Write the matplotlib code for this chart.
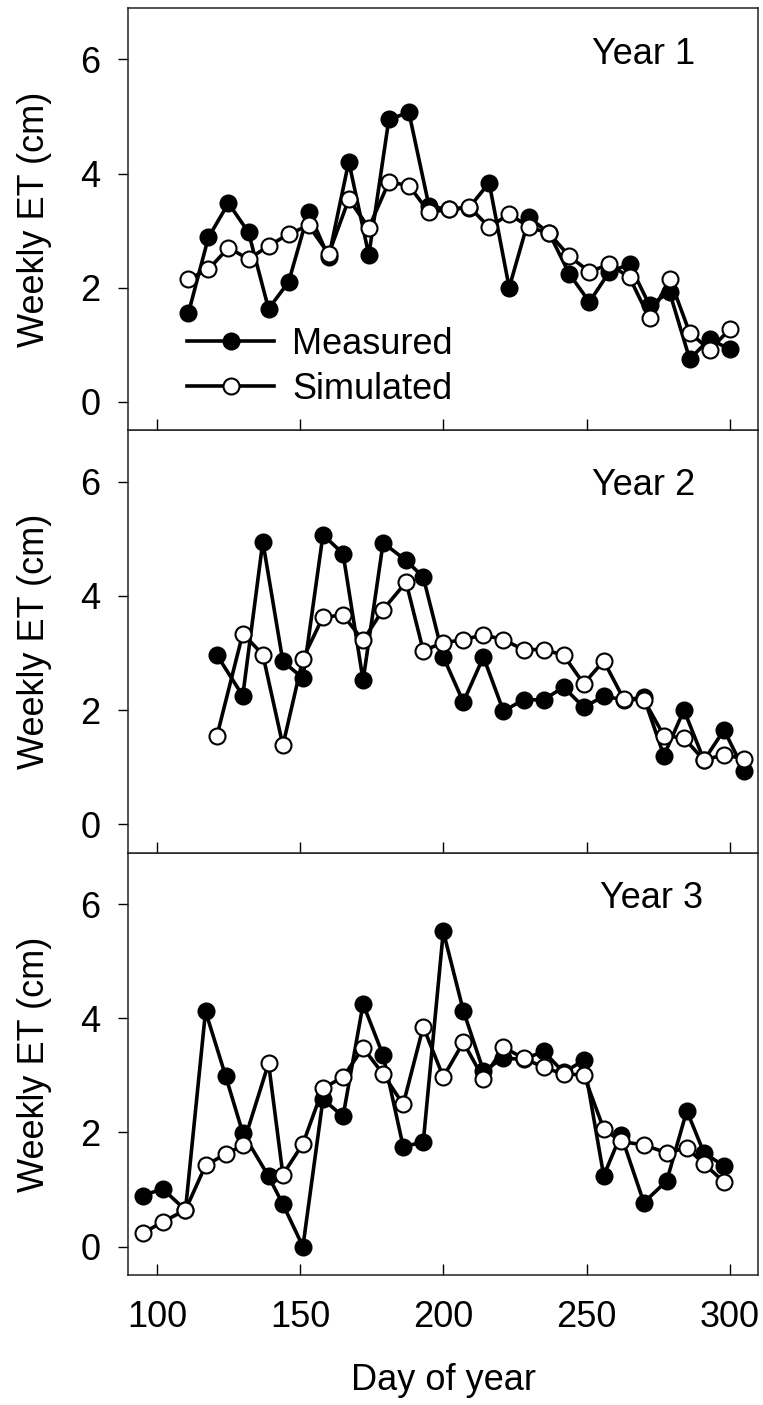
"""
Weekly ET, measured vs simulated, for three years.
Three stacked panels sharing the day-of-year axis.
"""

import matplotlib
matplotlib.use('Agg')
import matplotlib.pyplot as plt

plt.rcParams['font.family'] = ['Liberation Sans', 'DejaVu Sans']

# Year 1
year1_day = [111, 118, 125, 132, 139, 146, 153, 160, 167, 174, 181, 188, 195, 202,
             209, 216, 223, 230, 237, 244, 251, 258, 265, 272, 279, 286, 293, 300]
year1_measured = [1.55, 2.88, 3.48, 2.97, 1.63, 2.10, 3.33, 2.53, 4.21, 2.57, 4.95, 5.07, 3.43, 3.37,
                  3.40, 3.84, 2.00, 3.23, 2.95, 2.24, 1.75, 2.28, 2.41, 1.69, 1.92, 0.75, 1.10, 0.92]
year1_simulated = [2.15, 2.32, 2.70, 2.50, 2.73, 2.94, 3.09, 2.59, 3.55, 3.05, 3.85, 3.79, 3.32, 3.37,
                   3.42, 3.06, 3.29, 3.06, 2.95, 2.55, 2.28, 2.41, 2.18, 1.46, 2.16, 1.21, 0.91, 1.27]

# Year 2
year2_day = [121, 130, 137, 144, 151, 158, 165, 172, 179, 187, 193, 200, 207, 214,
             221, 228, 235, 242, 249, 256, 263, 270, 277, 284, 291, 298, 305]
year2_measured = [2.96, 2.25, 4.95, 2.85, 2.56, 5.07, 4.74, 2.52, 4.93, 4.62, 4.33, 2.93, 2.14, 2.93,
                  1.98, 2.18, 2.18, 2.40, 2.05, 2.24, 2.18, 2.22, 1.20, 2.00, 1.12, 1.65, 0.94]
year2_simulated = [1.55, 3.34, 2.97, 1.38, 2.90, 3.63, 3.66, 3.22, 3.76, 4.24, 3.04, 3.18, 3.23, 3.32,
                   3.23, 3.06, 3.06, 2.96, 2.46, 2.86, 2.19, 2.18, 1.55, 1.51, 1.12, 1.22, 1.14]

# Year 3
year3_day = [95, 102, 110, 117, 124, 130, 139, 144, 151, 158, 165, 172, 179, 186, 193,
             200, 207, 214, 221, 228, 235, 242, 249, 256, 262, 270, 278, 285, 291, 298]
year3_measured = [0.89, 1.01, 0.64, 4.12, 2.99, 1.99, 1.23, 0.74, 0.00, 2.58, 2.28, 4.25, 3.35, 1.75, 1.83,
                  5.52, 4.13, 3.08, 3.30, 3.28, 3.42, 3.05, 3.26, 1.24, 1.96, 0.77, 1.15, 2.38, 1.64, 1.41]
year3_simulated = [0.23, 0.43, 0.64, 1.42, 1.62, 1.77, 3.21, 1.26, 1.80, 2.77, 2.97, 3.48, 3.02, 2.49, 3.85,
                   2.97, 3.58, 2.94, 3.49, 3.30, 3.14, 3.02, 3.01, 2.06, 1.84, 1.78, 1.64, 1.73, 1.45, 1.13]

year_labels = ['Year 1', 'Year 2', 'Year 3']
y_ticks = [0, 2, 4, 6]
x_ticks = [100, 150, 200, 250, 300]

FONT_SIZE = 26


def plot_panel(ax, day, measured, simulated, label, label_pos):
    """
    Draws one year: measured (filled) and simulated (open) weekly ET.

    :param ax: axes to draw on
    :param day: day of year values
    :param measured: measured ET values
    :param simulated: simulated ET values
    :param label: the year text
    :param label_pos: (x, y) of the year text in axes fraction
    """
    ax.plot(day, measured, color='k', linewidth=2.6, marker='o', markersize=11.5,
            markerfacecolor='k', markeredgecolor='k', markeredgewidth=1.5,
            label='Measured', zorder=3)
    ax.plot(day, simulated, color='k', linewidth=2.6, marker='o', markersize=11.5,
            markerfacecolor='white', markeredgecolor='k', markeredgewidth=1.5,
            label='Simulated', zorder=4)

    ax.set_xlim(90, 310)
    ax.set_ylim(-0.5, 6.9)
    ax.set_xticks(x_ticks)
    ax.set_yticks(y_ticks)
    ax.tick_params(axis='x', direction='in', length=8, width=1, pad=18, labelsize=FONT_SIZE)
    ax.tick_params(axis='y', direction='out', length=7, width=1, pad=13, labelsize=FONT_SIZE)
    for spine in ax.spines.values():
        spine.set_linewidth(1.1)
        spine.set_color('#222222')

    ax.set_ylabel('Weekly ET (cm)', fontsize=FONT_SIZE, labelpad=20)
    ax.text(label_pos[0], label_pos[1], label, transform=ax.transAxes,
            fontsize=FONT_SIZE, ha='left', va='center')


fig = plt.figure(figsize=(7.63, 14.05), dpi=100)

left, width = 0.168, 0.826
bottom, height = 0.0925, 0.3006

ax3 = fig.add_axes([left, bottom, width, height])
ax2 = fig.add_axes([left, bottom + height, width, height], sharex=ax3)
ax1 = fig.add_axes([left, bottom + 2 * height, width, height], sharex=ax3)

plot_panel(ax1, year1_day, year1_measured, year1_simulated, year_labels[0], (0.736, 0.889))
plot_panel(ax2, year2_day, year2_measured, year2_simulated, year_labels[1], (0.736, 0.869))
plot_panel(ax3, year3_day, year3_measured, year3_simulated, year_labels[2], (0.749, 0.891))

for ax in (ax1, ax2):
    ax.tick_params(axis='x', labelbottom=False)

ax3.set_xlabel('Day of year', fontsize=FONT_SIZE, labelpad=20)

ax1.legend(loc='lower left', bbox_to_anchor=(0.094, 0.055), frameon=False,
           fontsize=FONT_SIZE, handlelength=2.4, handletextpad=0.5,
           borderpad=0, borderaxespad=0, labelspacing=0.28)

fig.savefig('out.png', dpi=100)
